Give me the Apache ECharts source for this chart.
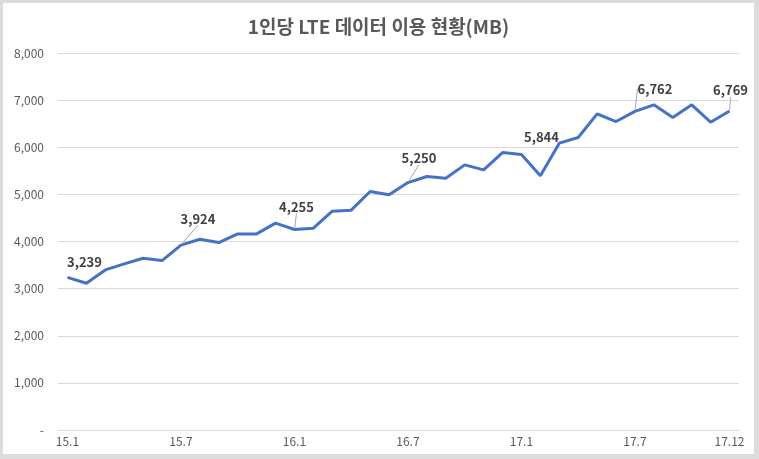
<!DOCTYPE html>
<html>
<head>
<meta charset="utf-8">
<script src="https://cdn.jsdelivr.net/npm/echarts@6/dist/echarts.min.js"></script>
<style>
    html, body { margin: 0; padding: 0; background: #fff; }
    #main {
        width: 759px; height: 459px; box-sizing: border-box;
        border-style: solid; border-color: #dcdcdc;
        border-width: 3px 5px 5px 3px;
    }
</style>
</head>
<body>
<div id="main"></div>
<script>
// 월별 구간 (15.1 ~ 17.12)
const months = [];
for (let y = 15; y <= 17; y++) {
    for (let m = 1; m <= 12; m++) months.push(y + '.' + m);
}

// 1인당 LTE 데이터 이용량 (MB)
const usage = [
    3239, 3115, 3397, 3524, 3645, 3595, 3924, 4048, 3977, 4161, 4161, 4390,
    4255, 4282, 4643, 4665, 5060, 4990, 5250, 5379, 5343, 5626, 5520, 5888,
    5844, 5393, 6087, 6206, 6709, 6546, 6762, 6900, 6631, 6900, 6532, 6769
];

// 값 표시할 지점과 라벨 위치 보정
const labelIdx = [0, 6, 12, 18, 24, 30, 35];
const noLeader = [0, 24];
const labelShift = {
    0: [17, -3], 6: [17, -14], 12: [2, -10], 18: [11, -12],
    24: [20, -5], 30: [20, -10], 35: [1, -8]
};

const shownTicks = [0, 6, 12, 18, 24, 30, 35];

const chart = echarts.init(document.querySelector('#main'));

let option = {
    animation: false,
    title: {
        text: '1인당 LTE 데이터 이용 현황(MB)',
        left: 'center',
        top: 9,
        textStyle: {
            fontFamily: 'Noto Sans CJK KR',
            fontSize: 19,
            fontWeight: 'bold',
            color: '#595959'
        }
    },
    grid: { left: 55, right: 15, top: 50, bottom: 24 },
    xAxis: {
        type: 'category',
        data: months,
        boundaryGap: true,
        axisLine: { lineStyle: { color: '#d9d9d9' } },
        axisTick: { show: false },
        axisLabel: {
            interval: (i) => shownTicks.includes(i),
            color: '#595959',
            fontSize: 12,
            margin: 5,
            fontFamily: 'Noto Sans CJK KR'
        }
    },
    yAxis: {
        type: 'value',
        min: 0,
        max: 8000,
        interval: 1000,
        axisLabel: {
            color: '#595959',
            fontSize: 12,
            margin: 14,
            fontFamily: 'Noto Sans CJK KR',
            formatter: (v) => v === 0 ? '-' : v.toLocaleString('en-US')
        },
        splitLine: { lineStyle: { color: '#d9d9d9' } }
    },
    series: [
        {
            type: 'line',
            data: usage.map((v, i) => ({
                value: v,
                label: { show: labelIdx.includes(i) },
                labelLine: { show: !noLeader.includes(i) }
            })),
            symbol: 'circle',
            symbolSize: 2,
            showSymbol: true,
            itemStyle: { color: 'rgba(0,0,0,0)' },
            lineStyle: { color: '#4472C4', width: 3 },
            emphasis: { disabled: true },
            label: {
                position: 'top',
                color: '#404040',
                fontSize: 13,
                fontWeight: 'bold',
                fontFamily: 'Noto Sans CJK KR',
                formatter: (p) => p.value.toLocaleString('en-US')
            },
            labelLine: {
                show: true,
                lineStyle: { color: '#a6a6a6', width: 1 }
            },
            labelLayout: (p) => {
                const s = labelShift[p.dataIndex] || [0, 0];
                return { dx: s[0], dy: s[1] };
            }
        }
    ]
};
chart.setOption(option);
</script>
</body>
</html>
